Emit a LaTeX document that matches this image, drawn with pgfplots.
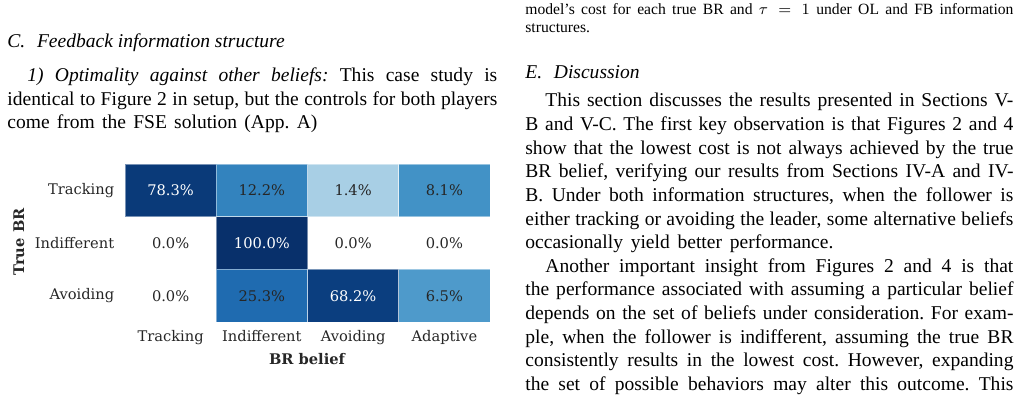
\documentclass[border=0pt]{standalone}
\usepackage{pgfplots}
\pgfplotsset{compat=1.18}
\usepackage{fontspec}
\setmainfont{Liberation Serif}
\newfontfamily\hmfont{DejaVu Serif}
\definecolor{tk}{HTML}{262626}
\definecolor{cA}{HTML}{0A3A79}
\definecolor{cB}{HTML}{3383BE}
\definecolor{cC}{HTML}{A8CFE5}
\definecolor{cD}{HTML}{4292C6}
\definecolor{cE}{HTML}{08306B}
\definecolor{cF}{HTML}{1F6BB0}
\definecolor{cG}{HTML}{0B3E7F}
\definecolor{cH}{HTML}{4E9ACB}
\newcommand{\hm}{\hmfont\fontsize{7.5}{9}\selectfont}
\newcommand{\LW}{250.9pt}
\newcommand{\LWi}{240.6pt}
\newcommand{\RW}{249.9pt}
\newcommand{\RWi}{239.6pt}
\begin{document}
\frenchspacing
\begin{tikzpicture}[x=0.512pt,y=-0.512pt]
\path[use as bounding box] (0,0) rectangle (1022,398);
\begin{scope}[every node/.style={anchor=base west, inner sep=0pt, font=\fontsize{10}{12}\selectfont\frenchspacing}]
% left column
\node at (7,48) {\itshape C.\hspace{0.6em}Feedback information structure};
\node at (27,82) {\makebox[\LWi][s]{\textit{1) Optimality against other beliefs:} This case study is}};
\node at (7,105.5) {\makebox[\LW][s]{identical to Figure 2 in setup, but the controls for both players}};
\node at (7,129) {\makebox[158.7pt][s]{come from the FSE solution (App. A)}};
% right column
\node[font=\fontsize{8}{9.5}\selectfont\frenchspacing] at (525,15) {\makebox[\RW][s]{model's cost for each true BR and $\tau = 1$ under OL and FB information}};
\node[font=\fontsize{8}{9.5}\selectfont] at (525,33) {structures.};
\node at (525,79) {\itshape E.\hspace{0.6em}Discussion};
\node at (545,107) {\makebox[\RWi][s]{This section discusses the results presented in Sections V-}};
\node at (525,130.6) {\makebox[\RW][s]{B and V-C. The first key observation is that Figures 2 and 4}};
\node at (525,154.2) {\makebox[\RW][s]{show that the lowest cost is not always achieved by the true}};
\node at (525,177.8) {\makebox[\RW][s]{BR belief, verifying our results from Sections IV-A and IV-}};
\node at (525,201.4) {\makebox[\RW][s]{B. Under both information structures, when the follower is}};
\node at (525,225) {\makebox[\RW][s]{either tracking or avoiding the leader, some alternative beliefs}};
\node at (525,248.6) {\makebox[157.7pt][s]{occasionally yield better performance.}};
\node at (545,272.2) {\makebox[\RWi][s]{Another important insight from Figures 2 and 4 is that}};
\node at (525,295.8) {\makebox[\RW][s]{the performance associated with assuming a particular belief}};
\node at (525,319.4) {\makebox[\RW][s]{depends on the set of beliefs under consideration. For exam-}};
\node at (525,343) {\makebox[\RW][s]{ple, when the follower is indifferent, assuming the true BR}};
\node at (525,366.6) {\makebox[\RW][s]{consistently results in the lowest cost. However, expanding}};
\node at (525,390.2) {\makebox[\RW][s]{the set of possible behaviors may alter this outcome. This}};
\end{scope}
% axis labels
\node[rotate=90, font=\hm\bfseries, text=tk, inner sep=0pt] at (19,242) {True BR};
\node[font=\hm\bfseries, text=tk, inner sep=0pt] at (307,359) {BR belief};
\begin{axis}[at={(64pt,-164.864pt)}, anchor=south west, scale only axis,
  width=186.88pt, height=80.9pt,
  xmin=-0.5, xmax=3.5, ymin=-0.5, ymax=2.5, y dir=reverse,
  axis line style={draw=none}, major tick length=0pt, tick style={draw=none},
  xtick={0,1,2,3}, xticklabels={Tracking,Indifferent,Avoiding,Adaptive},
  ytick={0,1,2}, yticklabels={Tracking,Indifferent,Avoiding},
  ticklabel style={font=\hm, text=tk},
  xticklabel style={yshift=-1pt},
  yticklabel style={xshift=-2pt},
  clip=false,
  cell/.style={draw=white, draw opacity=0.45, line width=0.5pt}]
% row 0: Tracking
\addplot[cell, fill=cA] coordinates {(-0.5,-0.5) (0.5,-0.5) (0.5,0.5) (-0.5,0.5)} -- cycle;
\addplot[cell, fill=cB] coordinates {(0.5,-0.5) (1.5,-0.5) (1.5,0.5) (0.5,0.5)} -- cycle;
\addplot[cell, fill=cC] coordinates {(1.5,-0.5) (2.5,-0.5) (2.5,0.5) (1.5,0.5)} -- cycle;
\addplot[cell, fill=cD] coordinates {(2.5,-0.5) (3.5,-0.5) (3.5,0.5) (2.5,0.5)} -- cycle;
% row 1: Indifferent
\addplot[cell, fill=cE] coordinates {(0.5,0.5) (1.5,0.5) (1.5,1.5) (0.5,1.5)} -- cycle;
% row 2: Avoiding
\addplot[cell, fill=cF] coordinates {(0.5,1.5) (1.5,1.5) (1.5,2.5) (0.5,2.5)} -- cycle;
\addplot[cell, fill=cG] coordinates {(1.5,1.5) (2.5,1.5) (2.5,2.5) (1.5,2.5)} -- cycle;
\addplot[cell, fill=cH] coordinates {(2.5,1.5) (3.5,1.5) (3.5,2.5) (2.5,2.5)} -- cycle;
% annotations
\node[font=\hm, text=white] at (axis cs:0,0) {78.3\%};
\node[font=\hm, text=tk] at (axis cs:1,0) {12.2\%};
\node[font=\hm, text=tk] at (axis cs:2,0) {1.4\%};
\node[font=\hm, text=tk] at (axis cs:3,0) {8.1\%};
\node[font=\hm, text=tk] at (axis cs:0,1) {0.0\%};
\node[font=\hm, text=white] at (axis cs:1,1) {100.0\%};
\node[font=\hm, text=tk] at (axis cs:2,1) {0.0\%};
\node[font=\hm, text=tk] at (axis cs:3,1) {0.0\%};
\node[font=\hm, text=tk] at (axis cs:0,2) {0.0\%};
\node[font=\hm, text=tk] at (axis cs:1,2) {25.3\%};
\node[font=\hm, text=white] at (axis cs:2,2) {68.2\%};
\node[font=\hm, text=tk] at (axis cs:3,2) {6.5\%};
\end{axis}
\end{tikzpicture}
\end{document}
